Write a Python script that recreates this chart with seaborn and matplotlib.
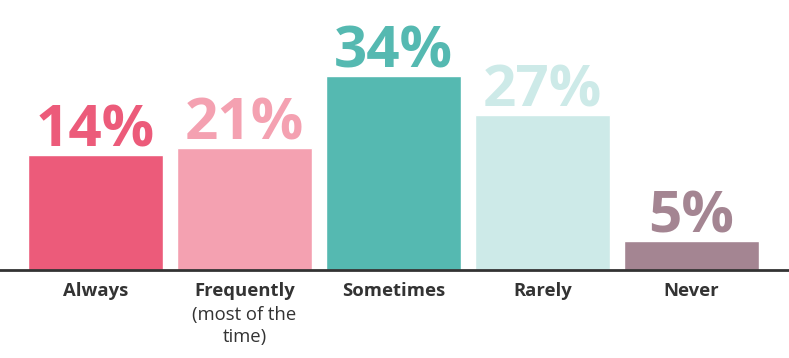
import numpy as np
import pandas as pd
import matplotlib.pyplot as plt
import seaborn as sns

sns.set_style('white')
plt.rcParams['font.family'] = ['Open Sans', 'DejaVu Sans']

# data
categories = ['Always', 'Frequently', 'Sometimes', 'Rarely', 'Never']
percent = [14, 21, 34, 27, 5]
# drawn bar heights (infographic is not to scale), in px above the baseline
bar_height = [115, 122, 194, 155, 29]
colors = ['#EC5B7A', '#F4A1B1', '#55B9B1', '#CDEAE8', '#A48592']

df = pd.DataFrame({'cat': categories, 'h': bar_height, 'pct': percent})

fig = plt.figure(figsize=(7.89, 3.58), dpi=100)
ax = fig.add_axes([0, 88 / 358, 1, 270 / 358])

sns.barplot(data=df, x='cat', y='h', hue='cat', palette=colors,
            width=0.9, saturation=1, legend=False, ax=ax)

for i, (h, p) in enumerate(zip(bar_height, percent)):
    ax.annotate(f'{p}%', (i, h), xytext=(0, 6), textcoords='offset points',
                ha='center', va='baseline', fontsize=42, fontweight='bold',
                color=colors[i])

ax.set_xlim(-0.641, 4.654)
ax.set_ylim(0, 270)
ax.set_yticks([])
ax.set_xlabel('')
ax.set_ylabel('')
ax.tick_params(axis='x', length=0, pad=9)
ax.set_xticks(range(len(categories)))
ax.set_xticklabels(categories, fontsize=13.3, fontweight='bold', color='#333333')
for s in ['top', 'left', 'right']:
    ax.spines[s].set_visible(False)
ax.spines['bottom'].set_linewidth(2)
ax.spines['bottom'].set_color('#333333')

# second line under "Frequently"; baseline is the last line's
ax.text(1, -72 / 270, '(most of the\ntime)', transform=ax.get_xaxis_transform(),
        ha='center', va='baseline', fontsize=13.3, color='#333333', linespacing=1.32)

fig.savefig('out.png', dpi=100)
